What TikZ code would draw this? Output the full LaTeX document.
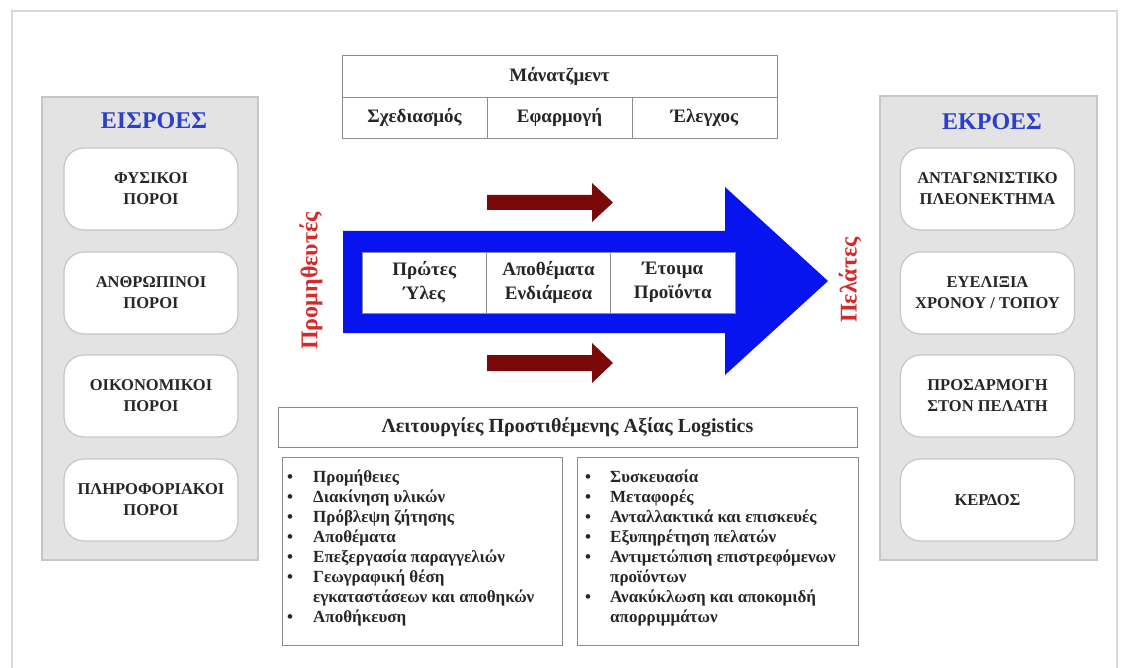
\documentclass[tikz,border=0pt]{standalone}
\usepackage{fontspec}
\setmainfont{Liberation Serif}
\definecolor{framegray}{HTML}{D9D9D9}
\definecolor{panelfill}{HTML}{E3E3E3}
\definecolor{panelline}{HTML}{C6C6C6}
\definecolor{titleblue}{HTML}{2B3FC8}
\definecolor{flowblue}{HTML}{0814F0}
\definecolor{darkred}{HTML}{7A0A0A}
\definecolor{labelred}{HTML}{D42A2A}
\definecolor{textgray}{HTML}{262626}
\definecolor{linegray}{HTML}{8C8C8C}
\begin{document}
\begin{tikzpicture}[x=1pt,y=-1pt,
 panel/.style={draw=panelline, fill=panelfill, line width=1.5pt, minimum width=216pt, minimum height=463pt, inner sep=0pt},
 resbox/.style={draw=panelline, fill=white, rounded corners=20pt, line width=1.2pt, minimum width=174pt, minimum height=82pt, inner sep=0pt, align=center, text=textgray, font=\bfseries\fontsize{16.5}{21}\selectfont},
 paneltitle/.style={text=titleblue, font=\bfseries\fontsize{24}{28}\selectfont, inner sep=0pt},
 cell/.style={draw=linegray, fill=white, line width=0.8pt, inner sep=0pt, align=center, text=textgray, font=\bfseries\fontsize{19}{24}\selectfont},
 sidelabel/.style={text=labelred, font=\bfseries\fontsize{24}{28}\selectfont, rotate=90, inner sep=0pt},
 listbox/.style={draw=linegray, fill=white, line width=0.8pt, inner sep=0pt},
 listtext/.style={text=textgray, font=\bfseries\fontsize{17}{20}\selectfont, inner sep=0pt, anchor=north west},
]
\useasboundingbox (0,0) rectangle (1123,668);
\fill[white] (0,0) rectangle (1123,668);
\draw[framegray, line width=1.5pt] (12,668) -- (12,11) -- (1117,11) -- (1117,668);

% inputs panel
\node[panel] (inP) at (150,328.5) {};
\node[paneltitle] (inT) at (154,121) {ΕΙΣΡΟΕΣ};
\node[resbox] (in1) at (151,189) {ΦΥΣΙΚΟΙ\\ΠΟΡΟΙ};
\node[resbox] (in2) at (151,293) {ΑΝΘΡΩΠΙΝΟΙ\\ΠΟΡΟΙ};
\node[resbox] (in3) at (151,396) {ΟΙΚΟΝΟΜΙΚΟΙ\\ΠΟΡΟΙ};
\node[resbox] (in4) at (151,500) {ΠΛΗΡΟΦΟΡΙΑΚΟΙ\\ΠΟΡΟΙ};

% outputs panel
\node[panel, minimum width=217pt, minimum height=464pt] (outP) at (988.5,328) {};
\node[paneltitle] (outT) at (992,122) {ΕΚΡΟΕΣ};
\node[resbox] (out1) at (987.5,189) {ΑΝΤΑΓΩΝΙΣΤΙΚΟ\\ΠΛΕΟΝΕΚΤΗΜΑ};
\node[resbox] (out2) at (987.5,293) {ΕΥΕΛΙΞΙΑ\\ΧΡΟΝΟΥ / ΤΟΠΟΥ};
\node[resbox] (out3) at (987.5,396) {ΠΡΟΣΑΡΜΟΓΗ\\ΣΤΟΝ ΠΕΛΑΤΗ};
\node[resbox] (out4) at (987.5,500) {ΚΕΡΔΟΣ};

% management table
\node[cell, minimum width=435pt, minimum height=42pt] (mgmt) at (559.5,76) {Μάνατζμεντ};
\node[cell, minimum width=145pt, minimum height=41pt] (plan) at (414.5,117.5) {Σχεδιασμός};
\node[cell, minimum width=145pt, minimum height=41pt] (impl) at (559.5,117.5) {Εφαρμογή};
\node[cell, minimum width=145pt, minimum height=41pt] (ctrl) at (704.5,117.5) {Έλεγχος};

% big flow arrow
\fill[flowblue] (343,231) -- (725,231) -- (725,187) -- (828,281) -- (725,375) -- (725,333) -- (343,333) -- cycle;
\node[cell, minimum width=124.33pt, minimum height=61pt] (raw) at (424.17,282.5) {Πρώτες\\Ύλες};
\node[cell, minimum width=124.33pt, minimum height=61pt] (wip) at (548.5,282.5) {Αποθέματα\\Ενδιάμεσα};
\node[cell, minimum width=124.33pt, minimum height=61pt] (fin) at (672.83,282.5) {Έτοιμα\\Προϊόντα};

% dark red arrows
\fill[darkred] (487,195) -- (592,195) -- (592,183) -- (613,202.5) -- (592,222) -- (592,210) -- (487,210) -- cycle;
\fill[darkred] (487,355) -- (592,355) -- (592,343) -- (613,363) -- (592,383) -- (592,371) -- (487,371) -- cycle;

% side labels
\node[sidelabel] (supp) at (311,281) {Προμηθευτές};
\node[sidelabel] (cust) at (850,280) {Πελάτες};

% value-added logistics
\node[cell, minimum width=579pt, minimum height=40pt, font=\bfseries\fontsize{20}{24}\selectfont] (vas) at (567.5,427) {Λειτουργίες Προστιθέμενης Αξίας Logistics};
\node[listbox, minimum width=280pt, minimum height=188pt] (lb1) at (422,551) {};
\node[listbox, minimum width=281pt, minimum height=188pt] (lb2) at (717.5,551) {};
\node[listtext] (l1) at (287,468) {\begin{tabular}{@{}p{26pt}@{}l@{}}
\textbullet & Προμήθειες\\
\textbullet & Διακίνηση υλικών\\
\textbullet & Πρόβλεψη ζήτησης\\
\textbullet & Αποθέματα\\
\textbullet & Επεξεργασία παραγγελιών\\
\textbullet & Γεωγραφική θέση\\
 & εγκαταστάσεων και αποθηκών\\
\textbullet & Αποθήκευση
\end{tabular}};
\node[listtext] (l2) at (585,468) {\begin{tabular}{@{}p{25pt}@{}l@{}}
\textbullet & Συσκευασία\\
\textbullet & Μεταφορές\\
\textbullet & Ανταλλακτικά και επισκευές\\
\textbullet & Εξυπηρέτηση πελατών\\
\textbullet & Αντιμετώπιση επιστρεφόμενων\\
 & προϊόντων\\
\textbullet & Ανακύκλωση και αποκομιδή\\
 & απορριμμάτων
\end{tabular}};
\end{tikzpicture}
\end{document}
